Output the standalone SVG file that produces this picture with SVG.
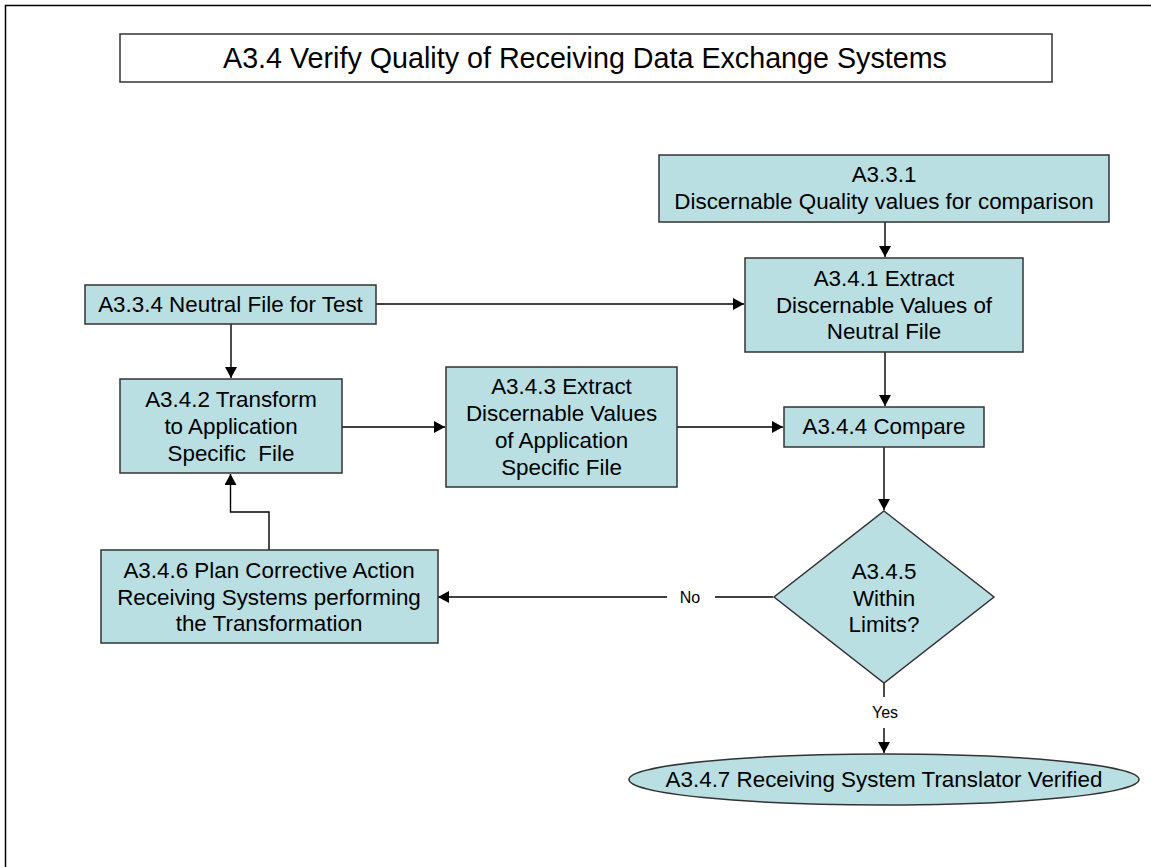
<svg xmlns="http://www.w3.org/2000/svg" width="1151" height="867" viewBox="0 0 1151 867">
<style>
.box{fill:#B9DFE2;stroke:#333;stroke-width:1.5}
.t{font-family:"Liberation Sans",Arial,sans-serif;font-size:22.4px;fill:#000;text-anchor:middle}
.lbl{font-family:"Liberation Sans",Arial,sans-serif;font-size:16px;fill:#000;text-anchor:middle}
.c{fill:none;stroke:#000;stroke-width:1.4}
</style>
<defs>
<marker id="ah" markerWidth="12" markerHeight="12" refX="11" refY="6" orient="auto" markerUnits="userSpaceOnUse">
<path d="M0,0 L11,6 L0,12 Z" fill="#000"/>
</marker>
</defs>
<rect width="1151" height="867" fill="#fff"/>
<path d="M5.5,867 V5.5 H1151" fill="none" stroke="#000" stroke-width="1.5"/>
<g id="title">
<rect x="120" y="34" width="932" height="48" fill="#fff" stroke="#333" stroke-width="1.5"/>
<text x="585" y="68" font-family="Liberation Sans,Arial,sans-serif" font-size="28.7" text-anchor="middle">A3.4 Verify Quality of Receiving Data Exchange Systems</text>
</g>
<g id="connectors">
<path class="c" d="M885,222 V257" marker-end="url(#ah)"/>
<path class="c" d="M376,304 H744" marker-end="url(#ah)"/>
<path class="c" d="M231,324 V378" marker-end="url(#ah)"/>
<path class="c" d="M342,427 H445" marker-end="url(#ah)"/>
<path class="c" d="M677,427 H783" marker-end="url(#ah)"/>
<path class="c" d="M885,352 V406" marker-end="url(#ah)"/>
<path class="c" d="M884,447 V510" marker-end="url(#ah)"/>
<path class="c" d="M773,597 H715"/>
<path class="c" d="M667,597 H438" marker-end="url(#ah)"/>
<text class="lbl" x="690" y="603">No</text>
<path class="c" d="M269,550 V512 H230.5 V474" marker-end="url(#ah)"/>
<path class="c" d="M884,683 V697"/>
<text class="lbl" x="885" y="718">Yes</text>
<path class="c" d="M884,728 V753" marker-end="url(#ah)"/>
</g>
<g id="n_a331">
<rect class="box" x="659" y="155" width="450" height="67"/>
<text class="t" x="884" y="182">A3.3.1</text>
<text class="t" x="884" y="209">Discernable Quality values for comparison</text>
</g>
<g id="n_a341">
<rect class="box" x="745" y="258" width="278" height="94"/>
<text class="t" x="884" y="286">A3.4.1 Extract</text>
<text class="t" x="884" y="313">Discernable Values of</text>
<text class="t" x="884" y="339">Neutral File</text>
</g>
<g id="n_a334">
<rect class="box" x="85" y="285" width="291" height="39"/>
<text class="t" x="230.5" y="312">A3.3.4 Neutral File for Test</text>
</g>
<g id="n_a342">
<rect class="box" x="120" y="379" width="222" height="94"/>
<text class="t" x="231" y="407">A3.4.2 Transform</text>
<text class="t" x="231" y="434">to Application</text>
<text class="t" x="231" y="461" xml:space="preserve">Specific  File</text>
</g>
<g id="n_a343">
<rect class="box" x="446" y="367" width="231" height="120"/>
<text class="t" x="561.5" y="394">A3.4.3 Extract</text>
<text class="t" x="561.5" y="421">Discernable Values</text>
<text class="t" x="561.5" y="448">of Application</text>
<text class="t" x="561.5" y="475">Specific File</text>
</g>
<g id="n_a344">
<rect class="box" x="784" y="407" width="200" height="40"/>
<text class="t" x="884" y="434">A3.4.4 Compare</text>
</g>
<g id="n_a345">
<polygon class="box" points="884,511 994,597 884,683 774,597"/>
<text class="t" x="884" y="579">A3.4.5</text>
<text class="t" x="884" y="606">Within</text>
<text class="t" x="884" y="632">Limits?</text>
</g>
<g id="n_a346">
<rect class="box" x="101" y="550" width="337" height="93"/>
<text class="t" x="269" y="578">A3.4.6 Plan Corrective Action</text>
<text class="t" x="269" y="605">Receiving Systems performing</text>
<text class="t" x="269" y="631">the Transformation</text>
</g>
<g id="n_a347">
<ellipse class="box" cx="884" cy="779.5" rx="255" ry="25.5"/>
<text class="t" x="884" y="787">A3.4.7 Receiving System Translator Verified</text>
</g>
</svg>
